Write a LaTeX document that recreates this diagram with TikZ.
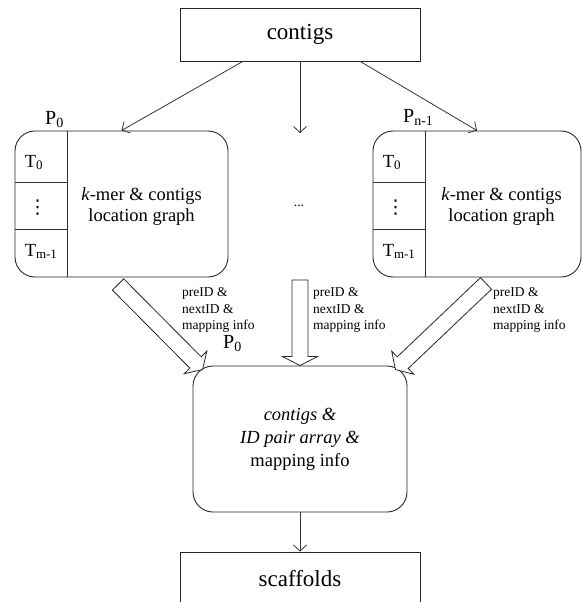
\documentclass[tikz,border=0pt]{standalone}
\usepackage{fontspec}
\setmainfont{Liberation Serif}
\newfontfamily\dotsfont{DejaVu Sans}
\usetikzlibrary{calc,arrows.meta}

% Wide hollow arrow: #1 tail, #2 tip, #3 half shaft width,
% #4 half head width, #5 head length
\newcommand\drawfatarrow[5]{%
  \path ($(#2)!#5!(#1)$) coordinate (fa-c);
  \draw[fatarrow]
    ($(#1)!#3!90:(#2)$) -- ($(fa-c)!#3!90:(#2)$) -- ($(fa-c)!#4!90:(#2)$)
    -- (#2)
    -- ($(fa-c)!#4!-90:(#2)$) -- ($(fa-c)!#3!-90:(#2)$) -- ($(#1)!#3!-90:(#2)$)
    -- cycle;
}

\begin{document}
\begin{tikzpicture}[x=1pt,y=-1pt,
  line/.style={draw=black!80, line width=0.8pt},
  thinarrow/.style={line, -{Straight Barb[length=6pt,width=13pt]}},
  sqbox/.style={draw=black!85, line width=0.9pt, minimum width=240pt,
    minimum height=53pt, inner sep=0pt, font=\fontsize{23}{26}\selectfont},
  procbox/.style={draw=black!85, line width=0.9pt, rounded corners=20pt,
    inner sep=0pt, minimum height=146pt},
  boxtext/.style={font=\fontsize{18.5}{20.5}\selectfont, align=center, inner sep=0pt},
  midtext/.style={font=\fontsize{18.5}{23}\selectfont, align=center, inner sep=0pt},
  cell/.style={font=\fontsize{18.5}{21}\selectfont, anchor=west, inner sep=0pt},
  vdotcell/.style={font=\dotsfont\fontsize{19}{21}\selectfont, inner sep=0pt},
  lbl/.style={font=\fontsize{13.5}{16.5}\selectfont, align=left,
    anchor=north west, inner sep=0pt},
  plabel/.style={font=\fontsize{20}{22}\selectfont, inner sep=0pt, anchor=base west},
  fatarrow/.style={draw=black!85, line width=0.8pt, fill=white, line join=miter}
]
\clip (0,0) rectangle (582,602);

% boxes
\node[sqbox] (contigs) at (300,34.5) {contigs};
\node[procbox, minimum width=213pt] (lbox) at (121.5,204) {};
\node[procbox, minimum width=208pt] (rbox) at (477,204) {};
\node[procbox, minimum width=214pt] (mid) at (300,439) {};
\node[sqbox] (scaf) at (300,578.5) {scaffolds};

% thread cells of the left process
\draw[line] ($(lbox.north west)+(53,0)$) -- ($(lbox.south west)+(53,0)$);
\draw[line] ($(lbox.north west)+(0,52)$) -- ++(53,0);
\draw[line] ($(lbox.north west)+(0,99)$) -- ++(53,0);
\node[cell] (lt0) at ($(lbox.north west)+(10,32)$) {T\textsubscript{0}};
\node[vdotcell] (ldots) at ($(lbox.north west)+(23,77)$) {⋮};
\node[cell] (ltm) at ($(lbox.north west)+(10,121)$) {T\textsubscript{m-1}};
\node[boxtext] (ltxt) at ($(lbox.north west)+(127,76)$) {\textit{k}-mer \& contigs\\location graph};

% thread cells of the right process
\draw[line] ($(rbox.north west)+(53,0)$) -- ($(rbox.south west)+(53,0)$);
\draw[line] ($(rbox.north west)+(0,52)$) -- ++(53,0);
\draw[line] ($(rbox.north west)+(0,99)$) -- ++(53,0);
\node[cell] (rt0) at ($(rbox.north west)+(10,32)$) {T\textsubscript{0}};
\node[vdotcell] (rdots) at ($(rbox.north west)+(23,77)$) {⋮};
\node[cell] (rtm) at ($(rbox.north west)+(10,121)$) {T\textsubscript{m-1}};
\node[boxtext] (rtxt) at ($(rbox.north west)+(129,76)$) {\textit{k}-mer \& contigs\\location graph};

% process labels
\node[plabel] (pl) at (45,124) {P\textsubscript{0}};
\node[plabel] (pr) at (403,122) {P\textsubscript{n-1}};
\node[plabel] (pm) at (223,348) {P\textsubscript{0}};

% middle box text
\node[midtext] (mtxt) at (mid.center) {\textit{contigs \&}\\\textit{ID pair array \&}\\mapping info};

% distribution of contigs
\node[font=\fontsize{13.5}{16}\selectfont, inner sep=0pt] (gap) at (299,206) {...};
\coordinate (ctip) at (300,133);
\draw[thinarrow] ($(contigs.south west)!0.2625!(contigs.south east)$) -- (lbox.north);
\draw[thinarrow] (contigs.south) -- (ctip);
\draw[thinarrow] ($(contigs.south west)!0.75!(contigs.south east)$) -- (rbox.north);

% gathering of results
\coordinate (la-tail) at ($(lbox.south)+(-3.5,7)$);
\coordinate (la-tip) at ($(mid.north west)+(10,4)$);
\coordinate (ca-tail) at (300,280);
\coordinate (ca-tip) at (mid.north);
\coordinate (ra-tail) at ($(rbox.south)+(9,6)$);
\coordinate (ra-tip) at ($(mid.north east)+(-12,4)$);
\drawfatarrow{la-tail}{la-tip}{8pt}{16pt}{10pt}
\drawfatarrow{ca-tail}{ca-tip}{8pt}{17.5pt}{9pt}
\drawfatarrow{ra-tail}{ra-tip}{8pt}{16pt}{10pt}

\node[lbl] (llbl) at (182,287.5) {preID \&\\nextID \&\\mapping info};
\node[lbl] (clbl) at (313,287.5) {preID \&\\nextID \&\\mapping info};
\node[lbl] (rlbl) at (493,287.5) {preID \&\\nextID \&\\mapping info};

\draw[thinarrow] (mid.south) -- (scaf.north);
\end{tikzpicture}
\end{document}
